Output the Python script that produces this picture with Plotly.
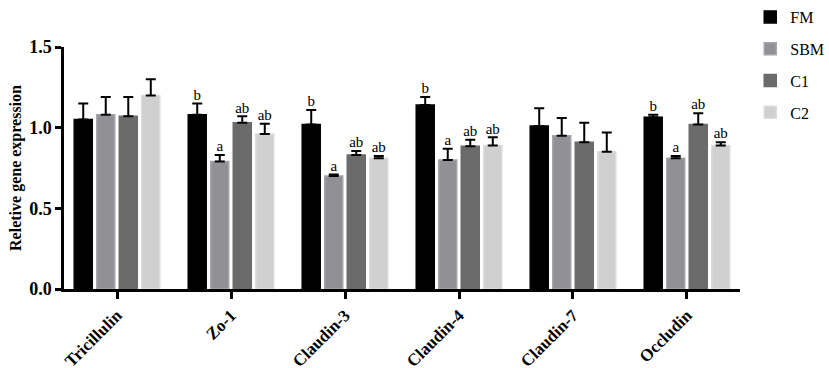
import plotly.graph_objects as go

genes = ["Tricillulin", "Zo-1", "Claudin-3", "Claudin-4", "Claudin-7", "Occludin"]
groups = ["FM", "SBM", "C1", "C2"]

fm = [1.05, 1.08, 1.02, 1.14, 1.01, 1.065]
fm_err = [0.10, 0.07, 0.09, 0.05, 0.11, 0.015]
sbm = [1.08, 0.79, 0.70, 0.80, 0.95, 0.81]
sbm_err = [0.11, 0.04, 0.01, 0.07, 0.11, 0.015]
c1 = [1.07, 1.03, 0.83, 0.885, 0.91, 1.02]
c1_err = [0.12, 0.04, 0.025, 0.04, 0.12, 0.07]
c2 = [1.20, 0.96, 0.81, 0.89, 0.85, 0.89]
c2_err = [0.10, 0.065, 0.015, 0.05, 0.12, 0.02]

fm_lab = ["", "b", "b", "b", "", "b"]
sbm_lab = ["", "a", "a", "a", "", "a"]
c1_lab = ["", "ab", "ab", "ab", "", "ab"]
c2_lab = ["", "ab", "ab", "ab", "", "ab"]

yticks = [0.0, 0.5, 1.0, 1.5]
ytick_text = ["0.0", "0.5", "1.0", "1.5"]

values = [fm, sbm, c1, c2]
errors = [fm_err, sbm_err, c1_err, c2_err]
labels = [fm_lab, sbm_lab, c1_lab, c2_lab]
fills = ["#000000", "#909095", "#6b6b6b", "#d0d0d0"]
lines = ["#000000", "#a5a5aa", "#6b6b6b", "#dcdcdc"]

FONT = "Liberation Serif"

fig = go.Figure()
for g, v, e, fc, lc in zip(groups, values, errors, fills, lines):
    fig.add_trace(go.Bar(
        name=g, x=genes, y=v, offsetgroup=g, legendgroup=g,
        marker=dict(color=fc, line=dict(color=lc, width=1.5)),
        error_y=dict(type="data", symmetric=False, array=e,
                     arrayminus=[0] * len(e), color="black",
                     thickness=2, width=5),
    ))

for g, v, e, lab in zip(groups, values, errors, labels):
    fig.add_trace(go.Scatter(
        x=genes, y=[a + b for a, b in zip(v, e)], text=lab,
        mode="text", textposition="top center", offsetgroup=g,
        textfont=dict(family=FONT, size=15, color="#000000"),
        showlegend=False, hoverinfo="skip",
    ))

fig.update_layout(
    width=829, height=368,
    margin=dict(l=64, r=89, t=47, b=79),
    paper_bgcolor="white", plot_bgcolor="white",
    barmode="group", bargap=0.21, bargroupgap=0.2,
    scattermode="group", scattergap=0.21,
    font=dict(family=FONT, color="black"),
    legend=dict(xref="container", yref="container",
                x=0.905, xanchor="left", y=1.0, yanchor="top",
                traceorder="grouped", tracegroupgap=8,
                font=dict(family=FONT, size=16, color="black"),
                itemwidth=30),
    xaxis=dict(showline=True, linecolor="black", linewidth=2.5,
               automargin=False,
               ticks="outside", ticklen=7, tickwidth=2.5, tickcolor="black",
               tickangle=-45, tickfont=dict(family=FONT, size=17, color="black", weight="bold"),
               range=[-0.465, 5.465]),
    yaxis=dict(range=[0, 1.5], tickvals=yticks, ticktext=ytick_text,
               automargin=False,
               showline=True, linecolor="black", linewidth=2.5,
               ticks="outside", ticklen=6, tickwidth=2.5, tickcolor="black",
               showgrid=False, zeroline=False,
               tickfont=dict(family=FONT, size=18, color="black", weight="bold"),
               title=dict(text="Reletive gene expression", standoff=4,
                          font=dict(family=FONT, size=16, color="black", weight="bold"))),
)

fig.write_html("out.html", config={"displayModeBar": False},
               post_script="document.body.style.margin='0';document.body.style.overflow='hidden';")
